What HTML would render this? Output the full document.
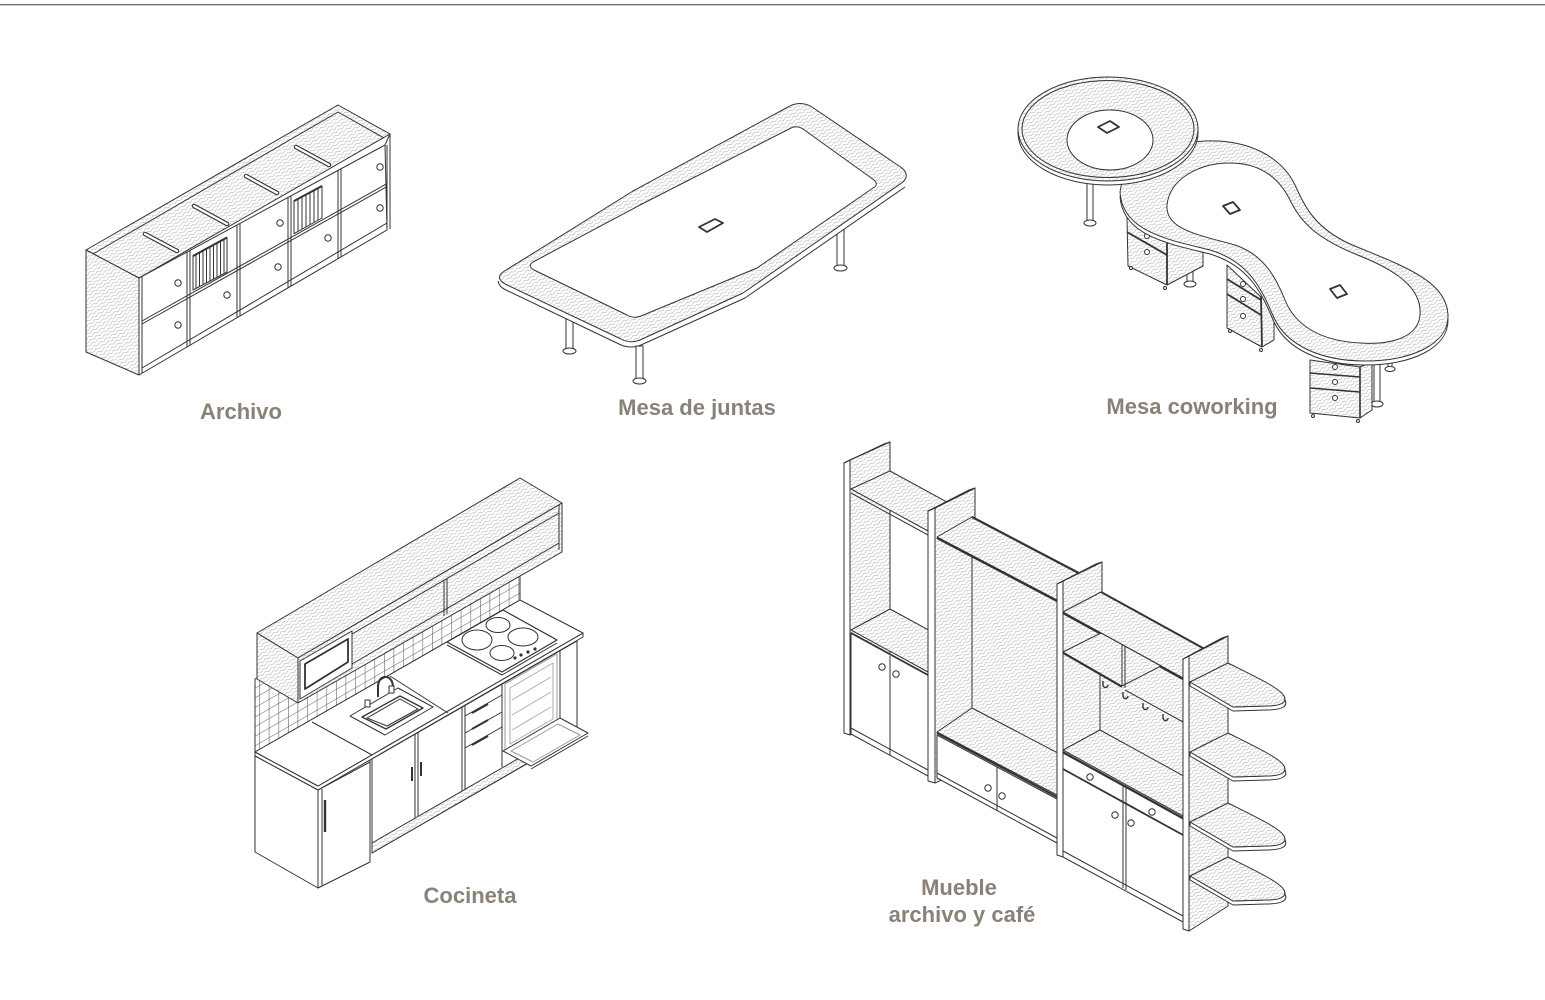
<!DOCTYPE html>
<html><head><meta charset="utf-8"><style>
html,body{margin:0;padding:0;background:#fff;}
svg{display:block;}
.l{font-family:"Liberation Sans",sans-serif;font-weight:bold;font-size:22px;fill:#8a8279;text-anchor:middle;}
</style></head><body>
<svg width="1545" height="1000" viewBox="0 0 1545 1000" xmlns="http://www.w3.org/2000/svg">
<defs>
<pattern id="h" width="7" height="3.6" patternUnits="userSpaceOnUse" patternTransform="rotate(-32)">
<rect width="7" height="3.6" fill="#fff"/>
<path d="M0,1.8 Q1.75,0.2 3.5,1.8 T7,1.8" fill="none" stroke="#b0b0b0" stroke-width="0.55"/>
</pattern>
<pattern id="t" width="9.6" height="9.6" patternUnits="userSpaceOnUse" patternTransform="skewY(-30)">
<rect width="9.6" height="9.6" fill="#fff"/>
<path d="M0,0.3 H9.6 M0.3,0 V9.6" stroke="#666" stroke-width="0.6" fill="none"/>
</pattern>
</defs>
<rect x="0" y="0" width="1545" height="1000" fill="#fff"/>
<rect x="0" y="4" width="1545" height="1.3" fill="#6a6a6a"/>

<g fill="none" stroke="#333" stroke-width="1" stroke-linejoin="round">

<!-- ================= ARCHIVO ================= -->
<polygon points="86,250 338,105 390,134 139,278" fill="url(#h)"/>
<polyline points="93,254 338,112 384,138"/>
<g stroke-linecap="round">
<line x1="145" y1="234" x2="177" y2="251" stroke-width="4.5"/>
<line x1="194" y1="206" x2="227" y2="224" stroke-width="4.5"/>
<line x1="246" y1="176" x2="277" y2="193" stroke-width="4.5"/>
<line x1="296" y1="147" x2="329" y2="165" stroke-width="4.5"/>
<line x1="145" y1="234" x2="177" y2="251" stroke="#fff" stroke-width="2.3"/>
<line x1="194" y1="206" x2="227" y2="224" stroke="#fff" stroke-width="2.3"/>
<line x1="246" y1="176" x2="277" y2="193" stroke="#fff" stroke-width="2.3"/>
<line x1="296" y1="147" x2="329" y2="165" stroke="#fff" stroke-width="2.3"/>
</g>
<polygon points="86,250 139,278 139,375 86,352" fill="url(#h)"/>
<polygon points="139,278 385,145 387,230 139,375" fill="#fff"/>
<line x1="142" y1="277" x2="142" y2="373"/>
<line x1="385" y1="145" x2="390" y2="134"/>
<line x1="390" y1="134" x2="390" y2="229"/>
<line x1="387" y1="145" x2="387" y2="230"/>
<line x1="187" y1="252" x2="187" y2="347"/><line x1="190" y1="250.5" x2="190" y2="345"/>
<line x1="237" y1="225" x2="237" y2="318"/><line x1="240" y1="223.5" x2="240" y2="316"/>
<line x1="288" y1="197.5" x2="288" y2="288"/><line x1="291" y1="196" x2="291" y2="286"/>
<line x1="338" y1="170.5" x2="338" y2="258.6"/><line x1="341" y1="169" x2="341" y2="257"/>
<line x1="142" y1="321" x2="387" y2="183.6"/>
<line x1="142" y1="324" x2="387" y2="186.6"/>
<line x1="142" y1="368" x2="387" y2="223"/>
<polygon points="193,256 227,237.5 227,272 193,290" fill="#fff"/>
<line x1="196" y1="254.4" x2="196" y2="288.3"/><line x1="199.5" y1="252.5" x2="199.5" y2="286.4"/>
<line x1="203" y1="250.6" x2="203" y2="284.4"/><line x1="206.5" y1="248.7" x2="206.5" y2="282.4"/>
<line x1="210" y1="246.8" x2="210" y2="280.5"/><line x1="213.5" y1="244.8" x2="213.5" y2="278.5"/>
<line x1="217" y1="242.9" x2="217" y2="276.6"/><line x1="220.5" y1="241" x2="220.5" y2="274.6"/>
<line x1="224" y1="239.1" x2="224" y2="272.6"/>
<polyline points="193,256 227,237.5" stroke-width="2"/>
<polygon points="294,201 322,186 322,218 294,233.7" fill="#fff"/>
<line x1="298" y1="198.8" x2="298" y2="231.5"/><line x1="302" y1="196.7" x2="302" y2="229.2"/>
<line x1="306" y1="194.5" x2="306" y2="227"/><line x1="310" y1="192.4" x2="310" y2="224.7"/>
<line x1="314" y1="190.2" x2="314" y2="222.5"/><line x1="318" y1="188" x2="318" y2="220.3"/>
<polyline points="294,201 322,186" stroke-width="2"/>
<g fill="#fff">
<circle cx="178" cy="283" r="3.2"/><circle cx="178" cy="325" r="3.2"/>
<circle cx="227" cy="295" r="3.2"/><circle cx="280" cy="223" r="3.2"/>
<circle cx="278" cy="267" r="3.2"/><circle cx="328" cy="238" r="3.2"/>
<circle cx="380" cy="167" r="3.2"/><circle cx="380" cy="208" r="3.2"/>
</g>

<!-- ================= MESA DE JUNTAS ================= -->
<g fill="#fff">
<rect x="566" y="300" width="7" height="50"/><ellipse cx="569.5" cy="351" rx="6.5" ry="3"/>
<rect x="837" y="215" width="7" height="52"/><ellipse cx="840.5" cy="268" rx="6.5" ry="3"/>
</g>
<path d="M498,281 Q499,287 506,290 L621,345 Q631,349 641,345 L745,298 L905,187" fill="#fff"/>
<path d="M503,272 L633,191 L788,107 Q800,100 812,107 L902,168 Q910,175 903,182 L743,293 L640,340 Q630,344 621,339 L505,284 Q495,278 503,272 Z" fill="url(#h)"/>
<path d="M533,262 L640,205 L791,128 Q797,125 803,129 L874,180 Q879,185 873,188 L757,268 L641,316 Q634,319 627,315 L534,270 Q527,266 533,262 Z" fill="#fff"/>
<g fill="#fff">
<rect x="636" y="346" width="7" height="34"/><ellipse cx="639.5" cy="381" rx="6.5" ry="3"/>
</g>
<polygon points="699,227 715,219 723,223 707,232" stroke-width="1.8"/>

<!-- ================= MESA COWORKING ================= -->
<g fill="#fff">
<rect x="1187" y="245" width="6" height="38"/><ellipse cx="1190" cy="284" rx="6" ry="3"/>
<rect x="1374" y="355" width="6" height="48"/><ellipse cx="1377" cy="404" rx="6" ry="3"/>
<rect x="1388" y="355" width="4" height="13"/><ellipse cx="1390" cy="369" rx="5" ry="2.5"/>
<rect x="1087" y="178" width="6" height="44"/><ellipse cx="1090" cy="223" rx="6" ry="3"/>
</g>
<polygon points="1127,218 1167,242 1167,285 1128,266" fill="url(#h)"/>
<polygon points="1167,242 1203,226 1203,266 1167,285" fill="url(#h)"/>
<line x1="1127" y1="232" x2="1167" y2="255" stroke-width="1.8"/>
<line x1="1167" y1="242" x2="1167" y2="285" stroke-width="1.8"/>
<g fill="#fff"><circle cx="1147" cy="236" r="2.5"/><circle cx="1147" cy="252" r="2.5"/>
<circle cx="1131" cy="268" r="1.5"/><circle cx="1165" cy="288" r="1.5"/></g>

<polygon points="1227,265 1261,297 1262,347 1227,328" fill="url(#h)"/>
<polygon points="1261,297 1274,290 1274,340 1262,347" fill="url(#h)"/>
<line x1="1227" y1="279" x2="1261" y2="300" stroke-width="1.8"/>
<line x1="1227" y1="294" x2="1261" y2="315" stroke-width="1.8"/>
<line x1="1261" y1="297" x2="1262" y2="347" stroke-width="1.8"/>
<g fill="#fff"><circle cx="1243" cy="284" r="2.5"/><circle cx="1243" cy="299" r="2.5"/><circle cx="1243" cy="316" r="2.5"/>
<circle cx="1230" cy="331" r="1.5"/><circle cx="1261" cy="350" r="1.5"/></g>

<polygon points="1310,360 1360,367 1360,418 1310,413" fill="url(#h)"/>
<polygon points="1360,367 1372,362 1372,410 1360,418" fill="url(#h)"/>
<line x1="1310" y1="373" x2="1360" y2="377" stroke-width="1.6"/>
<line x1="1310" y1="388" x2="1360" y2="392" stroke-width="1.6"/>
<line x1="1360" y1="367" x2="1360" y2="418" stroke-width="1.6"/>
<g fill="#fff"><circle cx="1335" cy="367" r="2.5"/><circle cx="1335" cy="382" r="2.5"/><circle cx="1335" cy="398" r="2.5"/>
<circle cx="1313" cy="416" r="1.5"/><circle cx="1358" cy="421" r="1.5"/></g>

<path d="M1120,196 C1122,236 1170,244 1210,254 C1250,266 1262,294 1274,322 C1287,349 1320,365 1365,365 C1410,365 1449,349 1448,319" fill="#fff"/>
<path d="M1120,192 C1122,165 1165,143 1205,141 C1250,139 1282,158 1295,185 C1305,207 1315,228 1350,244 C1400,265 1447,280 1448,315 C1449,345 1410,361 1365,361 C1320,361 1287,345 1274,318 C1262,290 1250,262 1210,250 C1170,240 1122,232 1120,192 Z" fill="url(#h)"/>
<path d="M1167,205 C1170,178 1200,163 1230,163 C1262,163 1280,180 1290,200 C1302,225 1320,240 1360,256 C1400,272 1422,290 1420,315 C1418,338 1390,345 1360,343 C1320,341 1295,325 1285,300 C1277,280 1265,255 1235,245 C1200,235 1165,230 1167,205 Z" fill="#fff"/>
<polygon points="1223,206 1233,202 1240,210 1230,214" stroke-width="1.8"/>
<polygon points="1330,289 1340,285 1347,294 1337,298" stroke-width="1.8"/>

<ellipse cx="1108" cy="133" rx="90" ry="52" fill="#fff"/>
<ellipse cx="1108" cy="129" rx="90" ry="52" fill="url(#h)"/>
<ellipse cx="1108" cy="129" rx="86" ry="48.5"/>
<ellipse cx="1110" cy="140" rx="43" ry="30" fill="#fff"/>
<polygon points="1098,127 1110,121 1119,127 1107,133" stroke-width="1.8"/>

<!-- ================= COCINETA ================= -->
<polygon points="255,679 520,524 520,600 255,752" fill="url(#t)"/>
<polygon points="257,633 520,478 562,503 298,658" fill="url(#h)"/>
<polygon points="257,633 298,658 298,703 257,679" fill="url(#h)"/>
<polygon points="298,658 562,503 562,552 298,703" fill="url(#h)"/>
<line x1="352" y1="634" x2="559" y2="513"/>
<line x1="352" y1="664" x2="559" y2="543"/>
<line x1="444" y1="580" x2="444" y2="616"/><line x1="447" y1="578" x2="447" y2="614"/>
<line x1="559" y1="505" x2="559" y2="550"/>
<polygon points="300,661 352,631 352,668 300,699" fill="#fff"/>
<polygon points="305,664 348,639 348,662 305,689" stroke-width="1.8"/>
<polygon points="255,752 318,786 583,633 583,637 318,790 255,756" fill="#fff"/>
<polygon points="255,752 520,600 583,633 318,786" fill="#fff"/>
<line x1="312" y1="722" x2="372" y2="755"/>
<line x1="390" y1="676" x2="448" y2="713"/>
<polygon points="350,716 398,688 433,707 385,735" fill="#fff"/>
<polygon points="362,717 400,696 423,708 386,729" stroke-width="1.3"/>
<polygon points="367,718 400,699 418,709 387,726"/>
<path d="M378,697 V686 Q379,676 387,677 Q393,679 393,688" stroke-width="2"/>
<rect x="365" y="700" width="5" height="7" fill="#fff"/><rect x="389" y="686" width="5" height="7" fill="#fff"/>
<polyline points="447,645 502,675 557,643"/>
<polygon points="447,642 503,610 557,640 502,672" fill="#fff" stroke-width="1.2"/>
<ellipse cx="477" cy="640" rx="15" ry="10"/>
<ellipse cx="498" cy="625" rx="12" ry="7.5"/>
<ellipse cx="523" cy="637" rx="15" ry="9"/>
<ellipse cx="502" cy="653" rx="12" ry="7.5"/>
<g fill="#333" stroke="none"><circle cx="515" cy="658" r="1.6"/><circle cx="521" cy="655" r="1.6"/><circle cx="528" cy="652" r="1.6"/><circle cx="535" cy="649" r="1.6"/></g>
<polygon points="255,756 318,790 318,888 255,852" fill="#fff"/>
<polygon points="318,790 370,762 370,862 318,888" fill="#fff"/>
<line x1="322" y1="789" x2="322" y2="886"/>
<line x1="325" y1="800" x2="325" y2="832" stroke-width="2.4"/>
<polygon points="372,759 577,641 577,735 372,853" fill="#fff"/>
<polygon points="372,843 560,734.5 560,744.5 372,853" fill="url(#h)"/>
<line x1="370" y1="760" x2="370" y2="862"/>
<line x1="415" y1="734" x2="415" y2="818"/><line x1="418" y1="732" x2="418" y2="816"/>
<line x1="462" y1="707" x2="462" y2="791"/><line x1="465" y1="705" x2="465" y2="789"/>
<line x1="502" y1="684" x2="502" y2="767"/>
<line x1="560" y1="650" x2="560" y2="734"/>
<line x1="465" y1="716" x2="502" y2="695"/>
<line x1="465" y1="733" x2="502" y2="712"/>
<line x1="465" y1="748" x2="502" y2="727"/>
<g stroke-width="2"><line x1="472" y1="713" x2="488" y2="704"/><line x1="472" y1="729" x2="488" y2="720"/><line x1="472" y1="745" x2="488" y2="736"/>
<line x1="412" y1="767" x2="412" y2="781"/><line x1="421" y1="762" x2="421" y2="776"/></g>
<polygon points="505,684 557,654 557,722 505,752" fill="#fff" stroke="#999"/>
<polygon points="510,688 553,663 553,719 510,744" stroke="#aaa"/>
<g stroke="#aaa"><line x1="512" y1="700" x2="551" y2="677"/><line x1="512" y1="715" x2="551" y2="692"/><line x1="512" y1="730" x2="551" y2="707"/></g>
<polygon points="503,751 560,718 588,733 531,766" fill="#fff"/>
<polygon points="511,751 558,724 580,735 533,762" stroke="#999"/>
<line x1="531" y1="769" x2="588" y2="736"/>

<!-- ================= MUEBLE ================= -->
<polygon points="850,460 890,442 890,717 850,735" fill="url(#h)"/>
<polygon points="844,463 850,460 850,735 844,733" fill="#fff"/>
<polygon points="844,463 884,444 890,442 850,460" fill="#fff"/>
<line x1="890" y1="442" x2="890" y2="608"/>
<polygon points="851,489 890,471 967,513 928,531" fill="url(#h)"/>
<line x1="851" y1="493" x2="928" y2="535"/>
<polygon points="851,630 890,609 967,651 928,672" fill="url(#h)"/>
<polygon points="851,633 928,675 928,776 851,734" fill="#fff"/>
<line x1="851" y1="633" x2="928" y2="675" stroke-width="1.8"/>
<line x1="890" y1="656" x2="890" y2="755"/>
<line x1="851" y1="728" x2="928" y2="770"/>
<g fill="#fff"><circle cx="882" cy="667" r="3.2"/><circle cx="896" cy="674" r="3.2"/></g>

<polygon points="935,508 975,488 975,765 935,783" fill="url(#h)"/>
<polygon points="928,511 935,508 935,783 928,781" fill="#fff"/>
<polygon points="928,511 969,490 975,488 935,508" fill="#fff"/>
<polygon points="972,517 1100,586 1100,850 972,785" fill="url(#h)" stroke="none"/>
<line x1="972" y1="517" x2="972" y2="708"/>
<polygon points="937,537 972,517 1092,580 1057,600" fill="url(#h)"/>
<line x1="972" y1="517" x2="1092" y2="580" stroke-width="2.2"/>
<line x1="937" y1="538" x2="1057" y2="601" stroke-width="2.2"/>
<polygon points="937,732 972,708 1092,771 1057,795" fill="url(#h)"/>
<polygon points="937,735 1057,799 1057,843 937,778" fill="#fff"/>
<line x1="937" y1="733" x2="1057" y2="797" stroke-width="2"/>
<line x1="997" y1="767" x2="997" y2="810"/>
<line x1="937" y1="773" x2="1057" y2="838"/>
<g fill="#fff"><circle cx="988" cy="788" r="3.2"/><circle cx="1002" cy="796" r="3.2"/></g>

<polygon points="1063,581 1102,562 1102,835 1063,857" fill="url(#h)"/>
<polygon points="1057,584 1063,581 1063,857 1057,855" fill="#fff"/>
<polygon points="1057,584 1096,564 1102,562 1063,581" fill="#fff"/>
<polygon points="1100,592 1228,662 1228,900 1100,865" fill="url(#h)" stroke="none"/>
<line x1="1100" y1="592" x2="1100" y2="730"/>
<polygon points="1063,612 1101,592 1221,658 1183,678" fill="url(#h)"/>
<line x1="1101" y1="592" x2="1221" y2="658" stroke-width="2"/>
<line x1="1063" y1="613" x2="1183" y2="679" stroke-width="2.2"/>
<polygon points="1063,652 1101,633 1161,666 1122,686" fill="url(#h)"/>
<line x1="1063" y1="653" x2="1122" y2="687" stroke-width="1.8"/>
<line x1="1122" y1="645" x2="1122" y2="686"/><line x1="1125" y1="646" x2="1125" y2="688"/>
<line x1="1125" y1="690" x2="1183" y2="722"/>
<g stroke-width="1.4">
<path d="M1103,681 v4 a2.5,2.5 0 0 0 5,0"/>
<path d="M1123,692 v4 a2.5,2.5 0 0 0 5,0"/>
<path d="M1143,703 v4 a2.5,2.5 0 0 0 5,0"/>
<path d="M1163,714 v4 a2.5,2.5 0 0 0 5,0"/>
</g>
<polygon points="1063,750 1100,730 1220,796 1183,816" fill="url(#h)"/>
<polygon points="1063,753 1183,819 1183,922 1063,857" fill="#fff"/>
<line x1="1063" y1="752" x2="1183" y2="818" stroke-width="1.8"/>
<line x1="1063" y1="769" x2="1183" y2="835" stroke-width="1.8"/>
<line x1="1123" y1="786" x2="1123" y2="888"/><line x1="1126" y1="787" x2="1126" y2="890"/>
<line x1="1063" y1="851" x2="1183" y2="916"/>
<g fill="#fff"><circle cx="1090" cy="777" r="3.2"/><circle cx="1152" cy="812" r="3.2"/>
<circle cx="1115" cy="815" r="3.2"/><circle cx="1131" cy="823" r="3.2"/></g>

<polygon points="1189,656 1228,636 1228,906 1189,931" fill="url(#h)"/>
<polygon points="1183,659 1189,656 1189,931 1183,929" fill="#fff"/>
<polygon points="1183,659 1222,638 1228,636 1189,656" fill="#fff"/>
<g id="shelf">
<path d="M1190,682 L1233,707 L1266,706 C1282,706 1287,702 1284,696 L1285,700 C1288,706 1283,710 1266,710 L1233,711 L1190,686 Z" fill="#fff"/>
<path d="M1190,682 L1228,663 C1252,675 1280,688 1284,696 C1287,702 1282,706 1266,706 L1233,707 Z" fill="url(#h)"/>
</g>
<use href="#shelf" transform="translate(0,70)"/>
<use href="#shelf" transform="translate(0,140)"/>
<use href="#shelf" transform="translate(0,194)"/>
</g>

<text class="l" x="241" y="419">Archivo</text>
<text class="l" x="697" y="415">Mesa de juntas</text>
<text class="l" x="1192" y="414">Mesa coworking</text>
<text class="l" x="470" y="903">Cocineta</text>
<text class="l" x="959" y="895">Mueble</text>
<text class="l" x="962" y="922">archivo y café</text>
</svg>
</body></html>
